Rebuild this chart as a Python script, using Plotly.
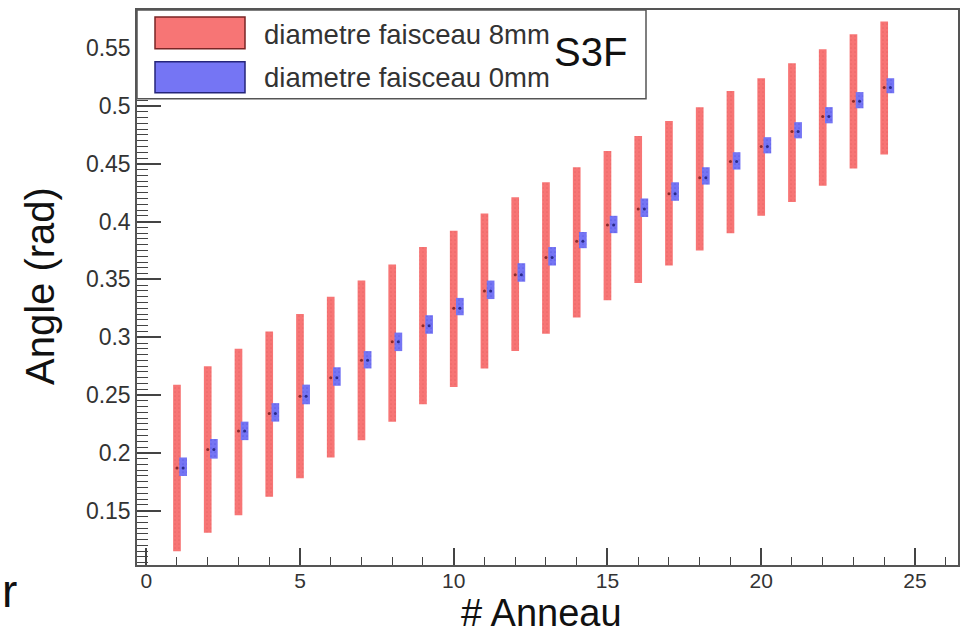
import plotly.graph_objects as go

# ---------------- data ----------------
anneau = list(range(1, 25))
angle_center = [0.187, 0.203, 0.219, 0.234, 0.249, 0.265, 0.280, 0.296, 0.310, 0.325, 0.340, 0.354,
                0.369, 0.383, 0.397, 0.411, 0.424, 0.438, 0.452, 0.465, 0.478, 0.491, 0.504, 0.516]
red_low = [0.115, 0.131, 0.146, 0.162, 0.178, 0.196, 0.211, 0.227, 0.242, 0.257, 0.273, 0.288,
           0.303, 0.317, 0.332, 0.347, 0.362, 0.375, 0.390, 0.405, 0.417, 0.431, 0.446, 0.458]
red_high = [0.259, 0.275, 0.290, 0.305, 0.320, 0.335, 0.349, 0.363, 0.378, 0.392, 0.407, 0.421,
            0.434, 0.447, 0.461, 0.474, 0.487, 0.499, 0.513, 0.524, 0.537, 0.549, 0.562, 0.573]
blue_low = [0.180, 0.195, 0.211, 0.227, 0.242, 0.258, 0.273, 0.288, 0.303, 0.319, 0.333, 0.348,
            0.362, 0.377, 0.390, 0.404, 0.418, 0.432, 0.445, 0.459, 0.472, 0.485, 0.498, 0.511]
blue_high = [0.196, 0.212, 0.227, 0.243, 0.259, 0.274, 0.288, 0.304, 0.319, 0.334, 0.349, 0.364,
             0.378, 0.391, 0.405, 0.420, 0.434, 0.447, 0.460, 0.473, 0.486, 0.499, 0.512, 0.524]
blue_offset = 0.2

series_names = ["diametre faisceau 8mm", "diametre faisceau 0mm"]
label_s3f = "S3F"
x_title = "# Anneau"
y_title = "Angle (rad)"

y_tickvals = [0.15, 0.2, 0.25, 0.3, 0.35, 0.4, 0.45, 0.5, 0.55]
y_ticktext = ["0.15", "0.2", "0.25", "0.3", "0.35", "0.4", "0.45", "0.5", "0.55"]
x_tickvals = [0, 5, 10, 15, 20, 25]
x_ticktext = ["0", "5", "10", "15", "20", "25"]

RED = "#F77575"
RED_DARK = "#8A2A2A"
BLUE = "#7575F4"
BLUE_DARK = "#2A2A8A"

# ---------------- layout geometry ----------------
W, H = 969, 635
L, R, T, B = 137, 11, 8, 70
pw, ph = W - L - R, H - T - B


def px(x):
    return (x - L) / pw


def py(y):
    return 1 - (y - T) / ph


fig = go.Figure()

fig.add_trace(go.Bar(
    x=anneau,
    y=[h - l for h, l in zip(red_high, red_low)],
    base=red_low,
    width=0.25,
    marker=dict(color=RED, line=dict(width=0),
                pattern=dict(shape=".", fgcolor="#E05A5A", bgcolor=RED, size=4, solidity=0.15)),
    name=series_names[0],
    showlegend=False,
))
fig.add_trace(go.Bar(
    x=[a + blue_offset for a in anneau],
    y=[h - l for h, l in zip(blue_high, blue_low)],
    base=blue_low,
    width=0.25,
    marker=dict(color=BLUE, line=dict(width=0),
                pattern=dict(shape=".", fgcolor="#4E4EDC", bgcolor=BLUE, size=4, solidity=0.15)),
    name=series_names[1],
    showlegend=False,
))
fig.add_trace(go.Scatter(
    x=anneau, y=angle_center, mode="markers",
    marker=dict(color=RED_DARK, size=3),
    showlegend=False, hoverinfo="skip",
))
fig.add_trace(go.Scatter(
    x=[a + blue_offset for a in anneau], y=angle_center, mode="markers",
    marker=dict(color=BLUE_DARK, size=3),
    showlegend=False, hoverinfo="skip",
))

# ---------------- legend (drawn) ----------------
shapes = [
    dict(type="rect", xref="paper", yref="paper", x0=px(137), x1=px(646), y0=py(97), y1=py(8),
         line=dict(color="#555555", width=1.5), fillcolor="white", layer="above"),
    dict(type="rect", xref="paper", yref="paper", x0=px(155), x1=px(245), y0=py(47), y1=py(15),
         line=dict(color="#7A2525", width=1.5), fillcolor=RED, layer="above"),
    dict(type="rect", xref="paper", yref="paper", x0=px(155), x1=px(245), y0=py(91), y1=py(60),
         line=dict(color="#25257A", width=1.5), fillcolor=BLUE, layer="above"),
]

annotations = [
    dict(text=series_names[0], xref="paper", yref="paper", x=px(262), y=py(33),
         xanchor="left", yanchor="middle", showarrow=False,
         font=dict(family="Liberation Sans, Arial", size=27.5, color="#333333")),
    dict(text=series_names[1], xref="paper", yref="paper", x=px(262), y=py(76),
         xanchor="left", yanchor="middle", showarrow=False,
         font=dict(family="Liberation Sans, Arial", size=27.5, color="#333333")),
    dict(text=label_s3f, xref="paper", yref="paper", x=px(590), y=py(50),
         xanchor="center", yanchor="middle", showarrow=False,
         font=dict(family="Liberation Sans, Arial", size=40, color="#111111")),
    dict(text=x_title, xref="paper", yref="paper", x=px(541), y=py(635),
         xanchor="center", yanchor="bottom", showarrow=False, borderpad=0,
         font=dict(family="Liberation Sans, Arial", size=38, color="#111111")),
    dict(text=y_title, xref="paper", yref="paper", x=px(40), y=py(285), textangle=-90,
         xanchor="center", yanchor="middle", showarrow=False,
         font=dict(family="Liberation Sans, Arial", size=40, color="#111111")),
    dict(text="r", xref="paper", yref="paper", x=px(0), y=py(591),
         xanchor="left", yanchor="middle", showarrow=False,
         font=dict(family="Liberation Sans, Arial", size=46, color="#111111")),
]

fig.update_layout(
    width=W, height=H,
    margin=dict(l=L, r=R, t=T, b=B, pad=0),
    paper_bgcolor="white", plot_bgcolor="white",
    barmode="overlay",
    shapes=shapes,
    annotations=annotations,
    showlegend=False,
    font=dict(family="Liberation Sans, Arial", color="#333333"),
)

fig.update_xaxes(
    range=[-0.3, 26.4],
    tickvals=x_tickvals, ticktext=x_ticktext,
    ticks="inside", ticklen=17, tickwidth=1.5, tickcolor="#444444",
    minor=dict(dtick=1, tick0=0, ticks="inside", ticklen=8, tickwidth=1.2, tickcolor="#444444"),
    showgrid=False, zeroline=False,
    showline=True, mirror=True, linecolor="#555555", linewidth=1.5,
    tickfont=dict(size=21, color="#333333"),
    ticklabelstandoff=-4,
)
fig.update_yaxes(
    range=[0.103, 0.583],
    tickvals=y_tickvals, ticktext=y_ticktext,
    ticks="inside", ticklen=24, tickwidth=1.5, tickcolor="#444444",
    minor=dict(dtick=0.005, tick0=0, ticks="inside", ticklen=11, tickwidth=1.2, tickcolor="#444444"),
    showgrid=False, zeroline=False,
    showline=True, mirror=True, linecolor="#555555", linewidth=1.5,
    tickfont=dict(size=23, color="#333333"),
)

fig.write_html("out.html")
